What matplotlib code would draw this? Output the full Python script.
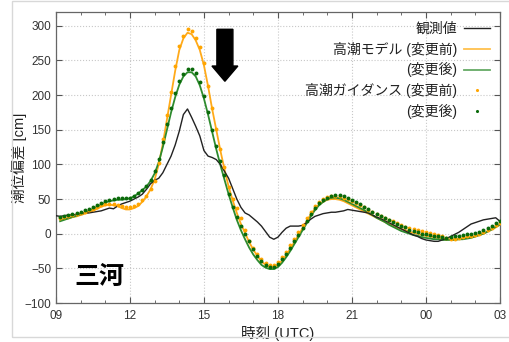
import numpy as np
import matplotlib
matplotlib.use("Agg")
import matplotlib.pyplot as plt
from matplotlib.patches import Rectangle

plt.rcParams['font.family'] = ['Liberation Sans', 'Noto Sans CJK JP', 'DejaVu Sans']

# time axis (hours since 00 UTC of the first day), 10-minute steps
t_obs = np.arange(54, 163) / 6.0       # 09:00 .. 03:00 next day
t_mod = np.arange(55, 163) / 6.0       # 09:10 .. 03:00

obs = [26, 25, 26, 27, 27, 28, 29, 30, 30, 31, 32, 33, 35, 37, 36, 40, 43, 45,
       47, 50, 53, 57, 64, 72, 77, 80, 88, 100, 112, 128, 148, 172, 180, 168, 155, 141,
       120, 112, 110, 107, 100, 90, 80, 65, 50, 38, 30, 27, 22, 17, 11, 3, -5, -8,
       -5, 2, 8, 11, 11, 11, 12, 16, 21, 25, 27, 29, 30, 31, 31, 32, 33, 35,
       34, 33, 32, 31, 30, 27, 24, 22, 19, 16, 13, 10, 7, 4, 1, -2, -4, -7,
       -9, -10, -11, -11, -9, -7, -4, -1, 2, 6, 10, 14, 16, 18, 20, 21, 22, 23, 18]

model_before = [20, 21, 22, 24, 25, 27, 29, 31, 33, 36, 39, 41, 42, 41, 40, 37, 35, 35,
                37, 40, 46, 54, 64, 78, 100, 130, 165, 200, 235, 265, 282, 290, 288, 279, 265, 243,
                213, 180, 150, 120, 93, 68, 48, 30, 14, 1, -12, -23, -32, -40, -45, -48, -48, -45,
                -39, -31, -22, -12, -2, 8, 18, 28, 36, 42, 46, 49, 50, 50, 49, 47, 44, 41,
                38, 35, 32, 29, 26, 23, 20, 17, 14, 12, 9, 7, 5, 3, 1, 0, -2, -3,
                -4, -5, -6, -7, -8, -8, -8, -8, -7, -6, -5, -4, -2, 0, 3, 6, 9, 13]

model_after = [18, 20, 22, 24, 26, 28, 30, 33, 36, 39, 42, 45, 47, 48, 49, 49, 50, 51,
               54, 58, 63, 68, 76, 87, 103, 125, 150, 175, 197, 215, 227, 233, 233, 227, 214, 195,
               172, 147, 122, 99, 78, 57, 38, 20, 5, -8, -20, -30, -38, -45, -49, -51, -51, -48,
               -42, -34, -25, -15, -5, 5, 15, 25, 34, 41, 46, 50, 52, 52, 51, 49, 46, 43,
               40, 37, 34, 30, 27, 23, 20, 17, 13, 10, 7, 4, 2, 0, -2, -3, -5, -6,
               -7, -8, -8, -9, -9, -9, -9, -8, -8, -7, -6, -4, -2, 0, 3, 6, 10, 13]

guide_before = [23, 24, 25, 27, 28, 30, 32, 34, 36, 39, 41, 43, 43, 43, 42, 40, 38, 38,
                40, 43, 48, 55, 64, 76, 102, 136, 171, 205, 242, 271, 286, 295, 292, 283, 270, 246,
                213, 181, 151, 122, 96, 68, 50, 37, 23, 6, -10, -20, -29, -37, -42, -45, -45, -41,
                -34, -26, -17, -7, 2, 12, 22, 32, 40, 46, 50, 53, 55, 55, 54, 52, 50, 47,
                44, 41, 38, 34, 31, 28, 25, 23, 20, 18, 16, 13, 10, 8, 7, 5, 4, 3,
                1, 0, -2, -4, -6, -7, -7, -6, -5, -4, -3, -2, 0, 2, 5, 8, 12, 16]

guide_after = [24, 25, 27, 28, 30, 32, 34, 36, 39, 42, 45, 47, 49, 50, 51, 51, 52, 52,
               55, 59, 63, 69, 77, 90, 108, 133, 158, 181, 203, 220, 231, 238, 238, 232, 219, 199,
               175, 150, 127, 105, 85, 57, 38, 24, 11, 0, -11, -22, -32, -40, -45, -48, -48, -44,
               -37, -29, -21, -11, -2, 8, 18, 28, 37, 44, 49, 52, 55, 56, 56, 55, 52, 49,
               46, 43, 39, 35, 32, 29, 26, 23, 20, 17, 14, 11, 9, 6, 4, 2, 0, -1,
               -2, -3, -4, -5, -6, -5, -4, -3, -2, -1, 0, 1, 2, 5, 8, 11, 15, 19]

xticks = [9, 12, 15, 18, 21, 24, 27]
xticklabels = ["09", "12", "15", "18", "21", "00", "03"]
yticks = [-100, -50, 0, 50, 100, 150, 200, 250, 300]

labels = ["観測値", "高潮モデル (変更前)", "(変更後)", "高潮ガイダンス (変更前)", "(変更後)"]

fig = plt.figure(figsize=(5.09, 3.42), dpi=100)
ax = fig.add_axes([0.110, 0.114, 0.872, 0.851])

# light frame around the figure
fig.patches.append(Rectangle((12 / 509, 5 / 342), 1.0, 336 / 342, transform=fig.transFigure,
                             fill=False, edgecolor='#d8d8d8', lw=1.0, zorder=0))

ax.plot(t_obs, obs, color='#222222', lw=1.0, label=labels[0], zorder=3)
ax.plot(t_mod, model_before, color='#ffaa1a', lw=1.3, label=labels[1], zorder=2)
ax.plot(t_mod, model_after, color='#2e8b2e', lw=1.3, label=labels[2], zorder=2)
ax.plot(t_mod, guide_before, ls='none', marker='o', ms=2.8, color='#ffa500',
        markeredgewidth=0, label=labels[3], zorder=4)
ax.plot(t_mod, guide_after, ls='none', marker='o', ms=2.8, color='#0a6a0a',
        markeredgewidth=0, label=labels[4], zorder=5)

ax.set_xlim(9, 27)
ax.set_ylim(-100, 320)
ax.set_xticks(xticks)
ax.set_xticklabels(xticklabels)
ax.set_xticks(np.arange(9, 28, 1), minor=True)
ax.set_yticks(yticks)
ax.tick_params(which='both', direction='in', top=True, right=True, labelsize=8.5,
               labelcolor='#333333', color='#555555')
ax.tick_params(which='major', length=4)
ax.tick_params(which='minor', length=2.5)
ax.tick_params(axis='x', pad=5)
for s in ax.spines.values():
    s.set_color('#666666')
    s.set_linewidth(0.9)
ax.grid(True, which='major', ls=':', color='#c8c8c8', lw=0.8)

ax.set_xlabel("時刻 (UTC)", fontsize=10.5, color='#222222', labelpad=3)
ax.set_ylabel("潮位偏差 [cm]", fontsize=10.5, color='#222222')
ax.yaxis.set_label_coords(-0.066, 0.5)

ax.text(10.78, -63, "三河", fontsize=18, fontweight='bold', ha='center', va='center',
        family=['Noto Sans CJK JP'])

ax.arrow(15.85, 295, 0, -75, width=0.65, head_width=1.05, head_length=22,
         length_includes_head=True, color='black', zorder=6)

leg = ax.legend(loc='upper right', frameon=False, markerfirst=False, fontsize=10,
                handlelength=1.9, labelspacing=0.42, borderaxespad=0.3, handletextpad=0.5,
                markerscale=0.8)
for txt in leg.get_texts():
    txt.set_ha('right')
    txt.set_color('#222222')
leg._legend_box.align = 'right'
leg.get_lines()[1].set_color('#ffc04d')
leg.get_lines()[2].set_color('#66aa66')

fig.savefig("out.png", dpi=100)
